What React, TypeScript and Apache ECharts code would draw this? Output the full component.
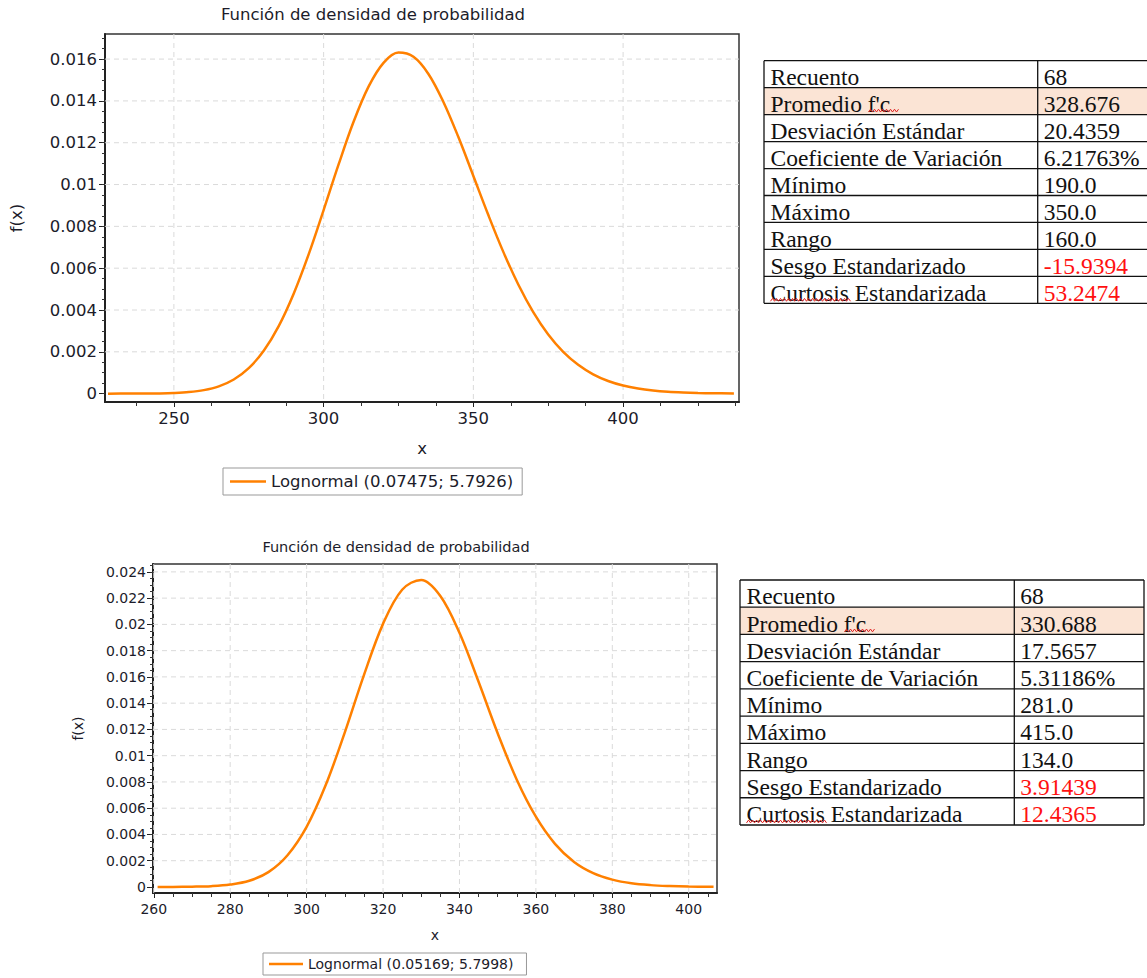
import React, { useEffect, useRef } from "react";
import * as echarts from "echarts";

// ---------- data ----------
const chartTitle = "Función de densidad de probabilidad";
const seriesName1 = "Lognormal (0.07475; 5.7926)";
const seriesName2 = "Lognormal (0.05169; 5.7998)";

// chart 1 (upper) density curve
const x1 = [228, 235, 240, 245, 250, 255, 260, 265, 270, 275, 280, 285, 290, 295, 300, 305, 310, 315, 320, 325, 330, 335, 340, 345, 350, 355, 360, 365, 370, 375, 380, 385, 390, 395, 400, 405, 410, 415, 420, 425, 430, 437];
const f1 = [0.0000002, 0.0000011, 0.0000037, 0.000011, 0.00003, 0.000073, 0.000167, 0.000349, 0.000677, 0.00122, 0.00205, 0.00323, 0.00478, 0.00666, 0.00878, 0.01096, 0.013, 0.01468, 0.01582, 0.01631, 0.01611, 0.01529, 0.01395, 0.01227, 0.01041, 0.00854, 0.00678, 0.00522, 0.0039, 0.00283, 0.002, 0.00138, 0.000925, 0.000606, 0.000388, 0.000243, 0.000149, 0.000089, 0.000053, 0.00003, 0.000017, 0.00001];

// chart 2 (lower) density curve
const x2 = [261, 265, 270, 275, 280, 285, 290, 295, 300, 305, 310, 315, 320, 325, 330, 335, 340, 345, 350, 355, 360, 365, 370, 375, 380, 385, 390, 395, 400, 406.5];
const f2 = [0.000001, 0.000003, 0.00002, 0.00006, 0.00018, 0.00047, 0.00113, 0.00242, 0.00458, 0.00776, 0.01178, 0.01614, 0.02004, 0.02264, 0.02339, 0.02217, 0.01936, 0.01563, 0.01171, 0.00817, 0.00535, 0.00328, 0.0019, 0.00105, 0.00056, 0.00028, 0.00014, 0.00007, 0.00003, 0.00001];

// axis ranges and ticks
const xRange1 = [227, 438.7];
const yRange1 = [-0.0004, 0.0172];
const xRange2 = [259.8, 407.4];
const yRange2 = [-0.00046, 0.0246];
const xMajor1 = [250, 300, 350, 400];
const xMinor1 = [237.5, 262.5, 275, 287.5, 312.5, 325, 337.5, 362.5, 375, 387.5, 412.5, 425, 437.5];
const yMajor1 = [0, 0.002, 0.004, 0.006, 0.008, 0.01, 0.012, 0.014, 0.016];
const xMajor2 = [260, 280, 300, 320, 340, 360, 380, 400];
const xMinor2 = [265, 270, 275, 285, 290, 295, 305, 310, 315, 325, 330, 335, 345, 350, 355, 365, 370, 375, 385, 390, 395, 405];
const yMajor2 = [0, 0.002, 0.004, 0.006, 0.008, 0.01, 0.012, 0.014, 0.016, 0.018, 0.02, 0.022, 0.024];
const yMinor1 = Array.from({ length: 35 }, (_, i) => +(i * 0.0005).toFixed(4));
const yMinor2 = Array.from({ length: 50 }, (_, i) => +(i * 0.0005).toFixed(4));

// tables
const statLabels = ["Recuento", "Promedio f'c", "Desviación Estándar", "Coeficiente de Variación", "Mínimo", "Máximo", "Rango", "Sesgo Estandarizado", "Curtosis Estandarizada"];
const statValues1 = ["68", "328.676", "20.4359", "6.21763%", "190.0", "350.0", "160.0", "-15.9394", "53.2474"];
const statValues2 = ["68", "330.688", "17.5657", "5.31186%", "281.0", "415.0", "134.0", "3.91439", "12.4365"];

// ---------- styles ----------
const ORANGE = "#FF8000";
const TXT = "#1c1c2a";
const SANS = "DejaVu Sans";
const SERIF = "Liberation Serif";
const HIGHLIGHT = "#FBE4D5";

function line(x1: number, y1: number, x2: number, y2: number, w = 1.3, c = "#111") {
  return { type: "line", silent: true, shape: { x1, y1, x2, y2 }, style: { stroke: c, lineWidth: w } };
}

function squiggle(xs: number, xe: number, y: number) {
  const pts: number[][] = [];
  let k = 0;
  for (let x = xs; x <= xe; x += 2) {
    pts.push([x, y + (k % 2 === 0 ? 1.4 : -1.4)]);
    k++;
  }
  return { type: "polyline", silent: true, shape: { points: pts }, style: { stroke: "#e02020", lineWidth: 1, fill: null } };
}

function tableElements(left: number, top: number, colX: number, right: number, rowH: number, values: string[]) {
  const els: any[] = [];
  const n = statLabels.length;
  els.push({ type: "rect", silent: true, shape: { x: left, y: top + rowH, width: right - left, height: rowH }, style: { fill: HIGHLIGHT } });
  for (let i = 0; i <= n; i++) els.push(line(left, top + i * rowH, right, top + i * rowH));
  els.push(line(left, top, left, top + n * rowH));
  els.push(line(colX, top, colX, top + n * rowH));
  els.push(line(right, top, right, top + n * rowH));
  const lx = left + 6.5;
  const vx = colX + 6;
  const font = `23.5px "${SERIF}"`;
  statLabels.forEach((lab, i) => {
    const y = top + i * rowH + rowH * 0.6;
    els.push({ type: "text", silent: true, x: lx, y, style: { text: lab, fill: "#111", font, verticalAlign: "middle", align: "left" } });
    els.push({ type: "text", silent: true, x: vx, y, style: { text: values[i], fill: i >= 7 ? "#FF1010" : "#111", font, verticalAlign: "middle", align: "left" } });
  });
  els.push(squiggle(lx + 98, lx + 129, top + 2 * rowH - 4));
  els.push(squiggle(lx, lx + 81, top + 9 * rowH - 3.5));
  return els;
}

function xAxesFor(grid: number, range: number[], major: number[], minor: number[], fs: number, margin: number, nameGap: number) {
  return [
    {
      type: "value", gridIndex: grid, position: "bottom", min: range[0], max: range[1],
      name: "x", nameLocation: "middle", nameGap, nameTextStyle: { color: TXT, fontFamily: SANS, fontSize: fs },
      axisLine: { show: true, onZero: false, lineStyle: { color: "#222", width: 2 } },
      axisTick: { show: true, customValues: major, length: 5, lineStyle: { color: "#222", width: 1 } },
      axisLabel: { customValues: major, color: TXT, fontFamily: SANS, fontSize: fs, margin },
      splitLine: { show: false },
      minorTick: { show: false },
    },
    {
      type: "value", gridIndex: grid, position: "bottom", min: range[0], max: range[1],
      axisLine: { show: false, onZero: false },
      axisTick: { show: true, customValues: minor, length: 4, lineStyle: { color: "#333", width: 1 } },
      axisLabel: { show: false },
      splitLine: { show: false },
    },
  ];
}

function yAxesFor(grid: number, range: number[], major: number[], minor: number[], fs: number, margin: number, nameGap: number) {
  return [
    {
      type: "value", gridIndex: grid, position: "left", min: range[0], max: range[1],
      name: "f(x)", nameLocation: "middle", nameGap, nameTextStyle: { color: TXT, fontFamily: SANS, fontSize: fs },
      axisLine: { show: true, onZero: false, lineStyle: { color: "#222", width: 2 } },
      axisTick: { show: true, customValues: major, length: 6, lineStyle: { color: "#222", width: 1 } },
      axisLabel: { customValues: major, color: TXT, fontFamily: SANS, fontSize: fs, margin, formatter: (v: number) => String(+Number(v).toFixed(4)) },
      splitLine: { show: false },
      minorTick: { show: false },
    },
    {
      type: "value", gridIndex: grid, position: "left", min: range[0], max: range[1],
      axisLine: { show: false, onZero: false },
      axisTick: { show: true, customValues: minor, length: 3, lineStyle: { color: "#333", width: 1 } },
      axisLabel: { show: false },
      splitLine: { show: false },
    },
  ];
}

// dashed grid lines at the major ticks, placed through the axes' scales
function gridLineSeries(name: string, axisIndex: number, xs: number[], ys: number[], xr: number[], yr: number[]) {
  const data = [
    ...xs.map((v) => [v, yr[0], 1]),
    ...ys.filter((v) => v !== 0).map((v) => [xr[0], v, 0]),
  ];
  return {
    name, type: "custom", xAxisIndex: axisIndex, yAxisIndex: axisIndex, z: 1, silent: true,
    encode: { x: 0, y: 1 },
    data,
    renderItem: (params: any, api: any) => {
      const cs = params.coordSys;
      const p = api.coord([api.value(0), api.value(1)]);
      const vertical = api.value(2) === 1;
      const shape = vertical
        ? { x1: p[0], y1: cs.y, x2: p[0], y2: cs.y + cs.height }
        : { x1: cs.x, y1: p[1], x2: cs.x + cs.width, y2: p[1] };
      return { type: "line", shape, style: { stroke: "#dadada", lineWidth: 1, lineDash: [5, 4], fill: null } };
    },
  };
}

export default function App() {
  const ref = useRef<HTMLDivElement>(null);
  useEffect(() => {
    if (!ref.current) return;
    const chart = echarts.init(ref.current, undefined, { renderer: "svg" });
    const option: any = {
      animation: false,
      backgroundColor: "#ffffff",
      title: [
        { text: chartTitle, left: 373, top: 6, padding: 0, textAlign: "center", textStyle: { color: TXT, fontFamily: SANS, fontSize: 16.5, fontWeight: "normal" } },
        { text: chartTitle, left: 396, top: 539, padding: 0, textAlign: "center", textStyle: { color: TXT, fontFamily: SANS, fontSize: 14.5, fontWeight: "normal" } },
      ],
      grid: [
        { left: 98, top: 34, width: 641, height: 368, show: true, borderColor: "#333", borderWidth: 1.5, backgroundColor: "#fff" },
        { left: 153, top: 564, width: 564, height: 329, show: true, borderColor: "#333", borderWidth: 1.5, backgroundColor: "#fff" },
      ],
      xAxis: [
        ...xAxesFor(0, xRange1, xMajor1, xMinor1, 16.5, 8, 38),
        ...xAxesFor(1, xRange2, xMajor2, xMinor2, 14, 9, 35),
      ],
      yAxis: [
        ...yAxesFor(0, yRange1, yMajor1, yMinor1, 16.5, 8, 80),
        ...yAxesFor(1, yRange2, yMajor2, yMinor2, 14, 7, 68),
      ],
      legend: [
        {
          data: [seriesName1], left: 223, top: 468, orient: "horizontal", icon: "rect",
          padding: [5, 9, 5, 7], itemWidth: 36, itemHeight: 2.5,
          borderColor: "#999", borderWidth: 1, backgroundColor: "#fff",
          textStyle: { color: TXT, fontFamily: SANS, fontSize: 16.5 },
        },
        {
          data: [seriesName2], left: 263, top: 953, orient: "horizontal", icon: "rect",
          padding: [4, 13, 4, 6], itemWidth: 34, itemHeight: 2.5,
          borderColor: "#999", borderWidth: 1, backgroundColor: "#fff",
          textStyle: { color: TXT, fontFamily: SANS, fontSize: 14 },
        },
      ],
      series: [
        gridLineSeries("grid1", 0, xMajor1, yMajor1, xRange1, yRange1),
        gridLineSeries("grid2", 2, xMajor2, yMajor2, xRange2, yRange2),
        {
          name: seriesName1, type: "line", xAxisIndex: 0, yAxisIndex: 0, z: 3,
          data: x1.map((x, i) => [x, f1[i]]), symbol: "none", smooth: 0.35,
          lineStyle: { color: ORANGE, width: 2.5 }, itemStyle: { color: ORANGE },
        },
        {
          name: seriesName2, type: "line", xAxisIndex: 2, yAxisIndex: 2, z: 3,
          data: x2.map((x, i) => [x, f2[i]]), symbol: "none", smooth: 0.35,
          lineStyle: { color: ORANGE, width: 2.5 }, itemStyle: { color: ORANGE },
        },
      ],
      graphic: [
        ...tableElements(764, 60.7, 1037.7, 1160, 26.96, statValues1),
        ...tableElements(740, 580, 1014.3, 1144, 27.22, statValues2),
      ],
    };
    chart.setOption(option);
    return () => chart.dispose();
  }, []);
  return <div ref={ref} style={{ position: "fixed", left: 0, top: 0, width: 1147, height: 978, background: "#fff" }} />;
}
